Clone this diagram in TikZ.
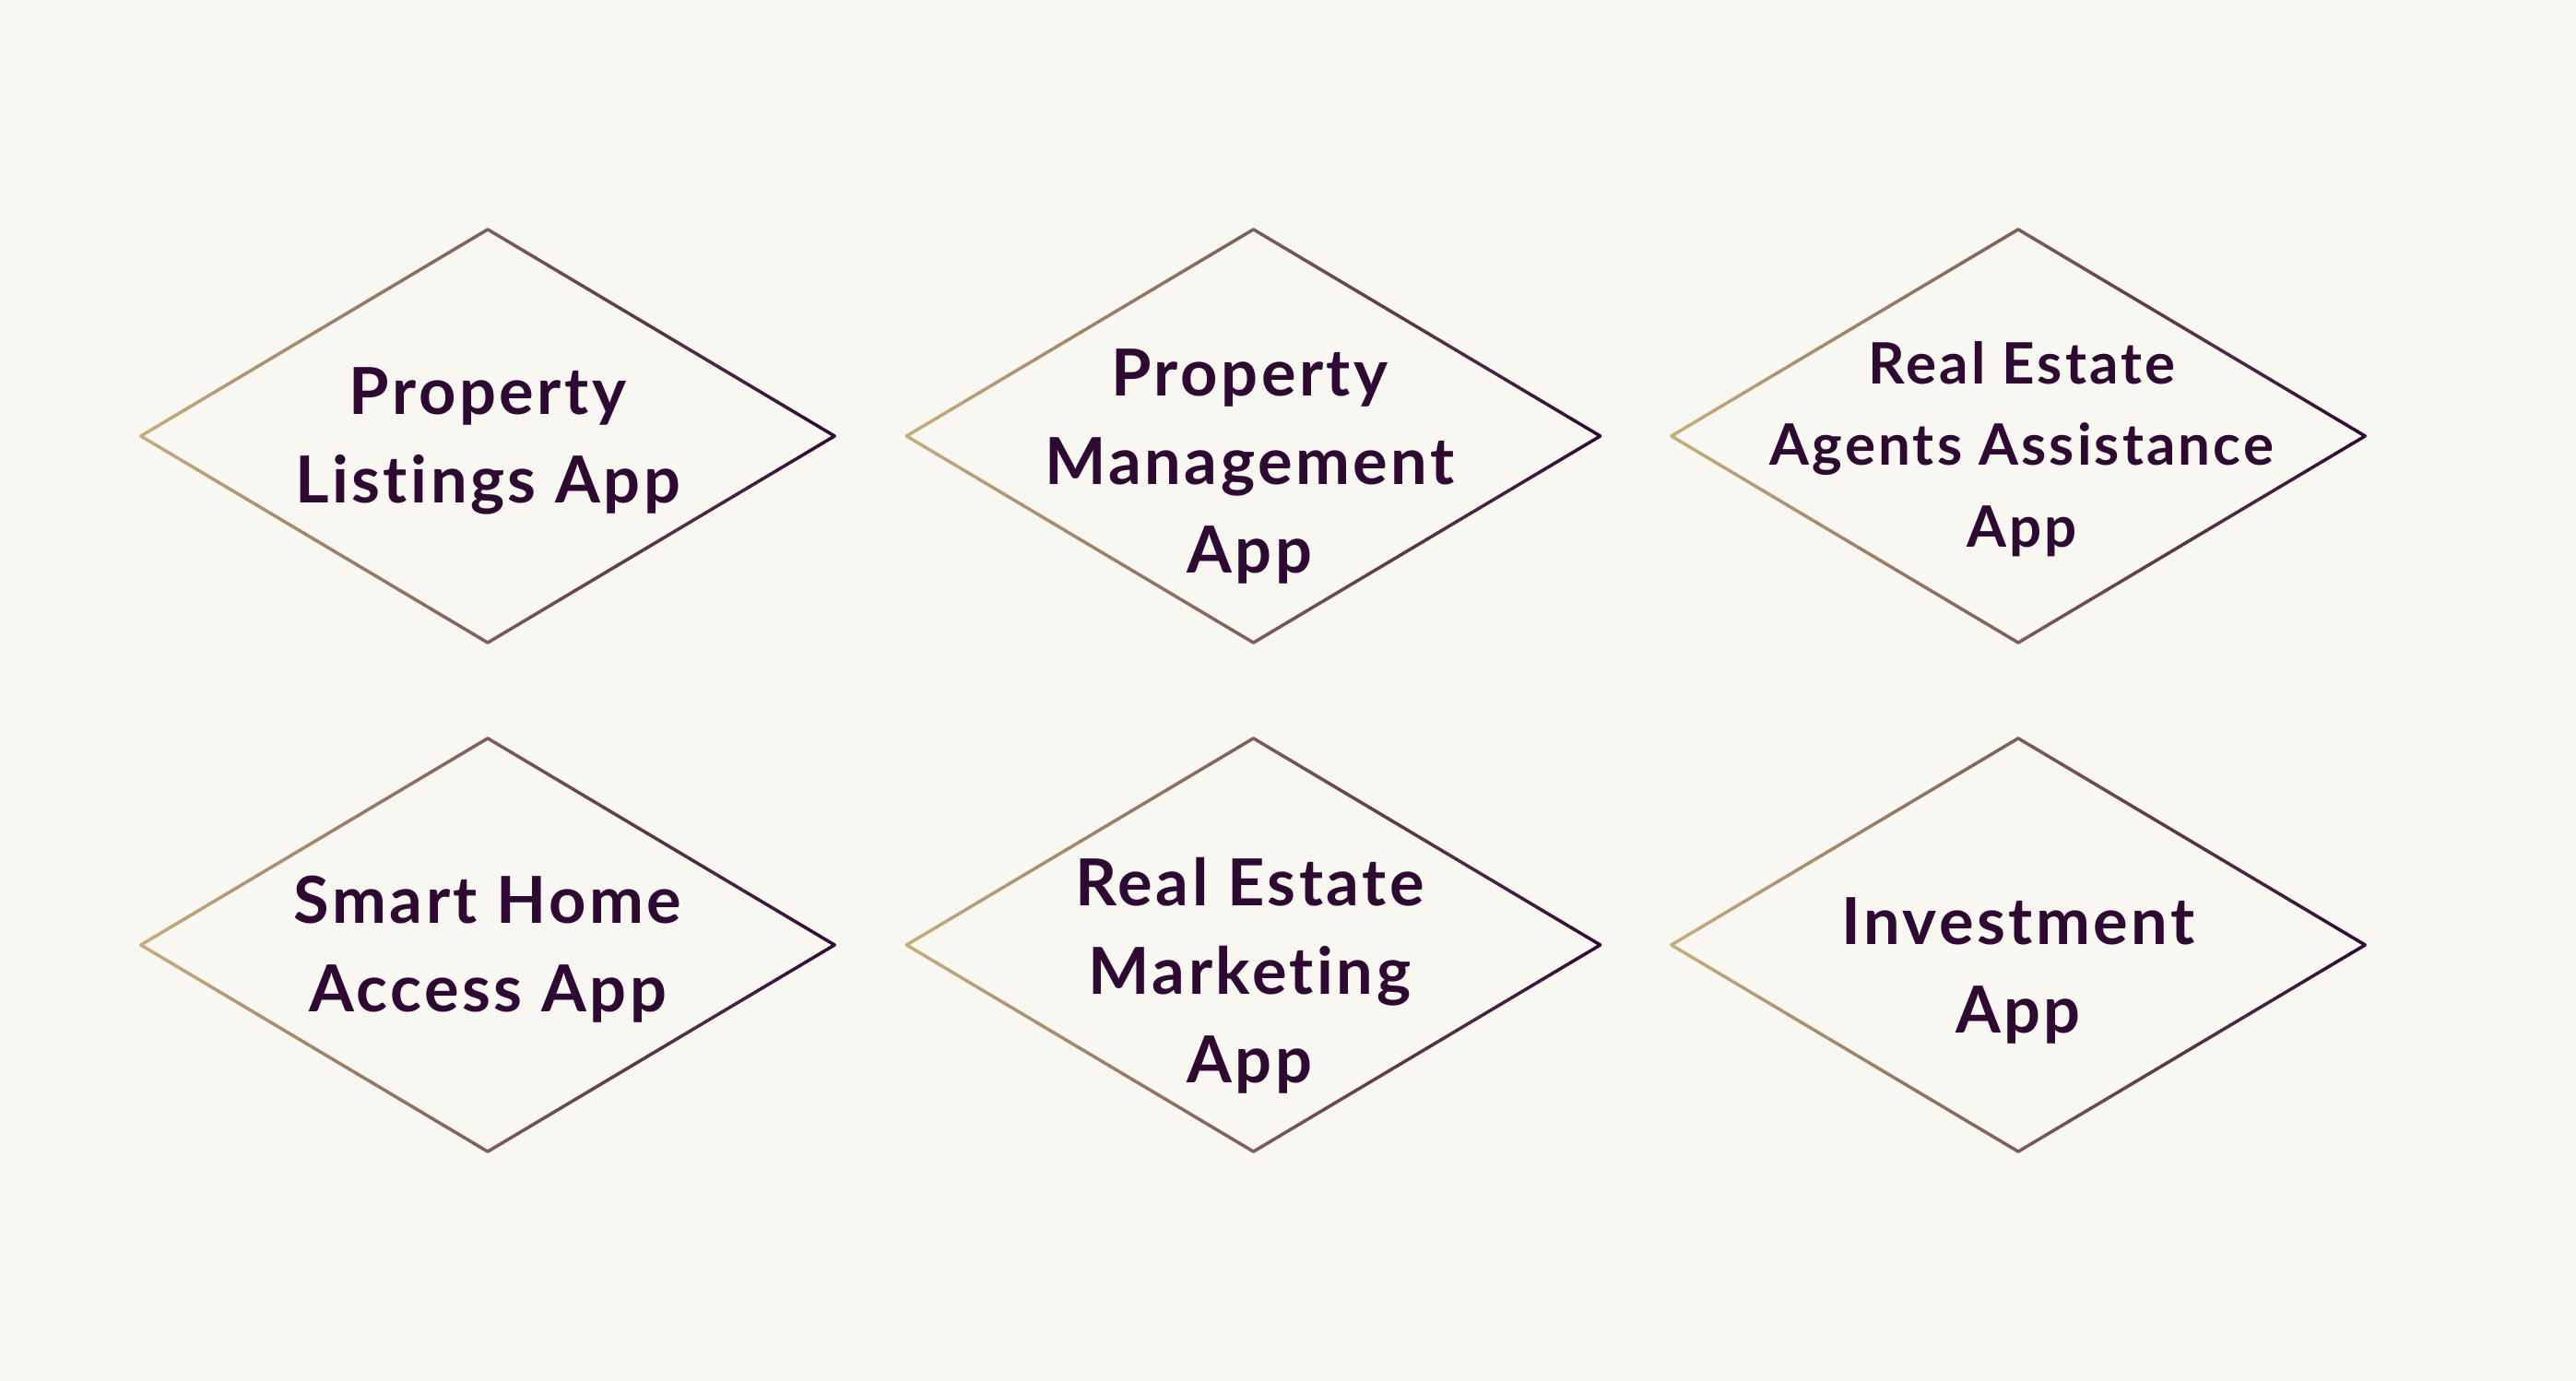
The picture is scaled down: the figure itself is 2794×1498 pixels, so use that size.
\documentclass[tikz,border=0pt]{standalone}
\usepackage{fontspec}
\setmainfont{Lato}[Ligatures=NoCommon, LetterSpace=5]
\usetikzlibrary{shapes.geometric,calc}

\definecolor{gembg}{HTML}{F8F7F2}
\definecolor{gemink}{HTML}{2E0A33}
\definecolor{gemtan}{HTML}{C4AF7E}
\definecolor{gembrown}{HTML}{7A5F5A}
\definecolor{gemdark}{HTML}{2D0B33}

\tikzset{
  gem/.style={diamond, draw=none, inner sep=0pt, outer sep=0pt,
    minimum width=7.52cm, minimum height=4.48cm},
  gemline/.style={line width=0.035cm, line cap=round},
  gemtext/.style={align=center, inner sep=0pt, text=gemink,
    font=\bfseries\fontsize{20pt}{27.3pt}\selectfont},
  gemsmall/.style={font=\bfseries\fontsize{17.6pt}{25.2pt}\selectfont}
}

% outline of a diamond, tan at the left turning dark at the right
\newcommand\gemedges[1]{%
  \foreach \i in {0,...,23}{%
    \pgfmathsetmacro\pa{\i/24}%
    \pgfmathsetmacro\pb{(\i+1)/24}%
    \pgfmathsetmacro\pc{100-100*(\i+0.5)/24}%
    \draw[gemline, draw=gemtan!\pc!gembrown] ($(#1.west)!\pa!(#1.north)$) -- ($(#1.west)!\pb!(#1.north)$);
    \draw[gemline, draw=gemtan!\pc!gembrown] ($(#1.west)!\pa!(#1.south)$) -- ($(#1.west)!\pb!(#1.south)$);
    \draw[gemline, draw=gembrown!\pc!gemdark] ($(#1.north)!\pa!(#1.east)$) -- ($(#1.north)!\pb!(#1.east)$);
    \draw[gemline, draw=gembrown!\pc!gemdark] ($(#1.south)!\pa!(#1.east)$) -- ($(#1.south)!\pb!(#1.east)$);
  }}

\begin{document}
\begin{tikzpicture}[x=0.01cm, y=-0.01cm]
    \fill[gembg] (0,0) rectangle (2794,1498);
    \useasboundingbox (0,0) rectangle (2794,1498);

    % top row
    \node[gem] (listings) at (529,473) {};
    \node[gem] (management) at (1359.5,473) {};
    \node[gem] (agents) at (2189,473) {};
    % bottom row
    \node[gem] (smarthome) at (529,1025) {};
    \node[gem] (marketing) at (1359.5,1025) {};
    \node[gem] (investment) at (2189,1025) {};

    \foreach \d in {listings,management,agents,smarthome,marketing,investment}
      \gemedges{\d};

    \node[gemtext] (listingstxt) at ($(listings)+(0,5)$) {Property\\Listings App};
    \node[gemtext] (managementtxt) at ($(management)+(-4,33)$) {Property\\Management\\App};
    \node[gemtext, gemsmall] (agentstxt) at ($(agents)+(4,14)$) {Real Estate\\Agents Assistance\\App};
    \node[gemtext] (smarthometxt) at ($(smarthome)+(0,5)$) {Smart Home\\Access App};
    \node[gemtext] (marketingtxt) at ($(marketing)+(-4,33)$) {Real Estate\\Marketing\\App};
    \node[gemtext] (investmenttxt) at ($(investment)+(0,28)$) {Investment\\App};
\end{tikzpicture}
\end{document}
